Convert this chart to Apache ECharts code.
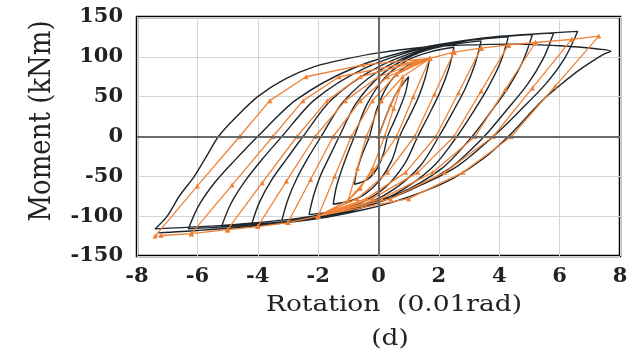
<!DOCTYPE html>
<html><head><meta charset="utf-8">
<script src="https://cdn.jsdelivr.net/npm/echarts@6/dist/echarts.min.js"></script>
<style>html,body{margin:0;padding:0;background:#fff}#c{width:641px;height:358px}</style>
</head><body><div id="c"></div>
<script>
const xTicks = [-8,-6,-4,-2,0,2,4,6,8];
const yTicks = [-150,-100,-50,0,50,100,150];

// Experimental hysteresis (black), traced in order
const blackPath = [
[0,0],[0.3,30],[0.6,55],[1.0,75],
[0.9,56],[0.73,38],[0.52,19],[0.3,0],[0.17,-21],[-0.03,-39],[-0.27,-51],[-0.53,-57],[-0.8,-60],
[-0.73,-45],[-0.61,-30],[-0.46,-15],[-0.3,0],[-0.06,34],[0.3,64],[0.74,83],[1.2,93],[1.7,98],
[1.55,74],[1.32,49],[1.02,25],[0.7,0],[0.44,-30],[0.04,-55],[-0.44,-72],[-0.95,-81],[-1.5,-85],
[-1.4,-64],[-1.23,-43],[-1.02,-21],[-0.8,0],[-0.4,39],[0.19,73],[0.92,95],[1.68,106],[2.5,112],
[2.32,84],[2.04,56],[1.68,28],[1.3,0],[0.87,-34],[0.22,-64],[-0.57,-83],[-1.4,-93],[-2.3,-98],
[-2.15,-74],[-1.92,-49],[-1.62,-25],[-1.3,0],[-0.74,42],[0.11,78],[1.14,102],[2.23,114],[3.4,120],
[3.19,90],[2.87,60],[2.45,30],[2.0,0],[1.38,-37],[0.44,-68],[-0.7,-89],[-1.9,-100],[-3.2,-105],
[-3.0,-79],[-2.71,-53],[-2.32,-26],[-1.9,0],[-1.16,44],[-0.04,81],[1.32,106],[2.75,119],[4.3,125],
[4.05,94],[3.65,63],[3.14,31],[2.6,0],[1.78,-39],[0.56,-72],[-0.94,-94],[-2.5,-105],[-4.2,-110],
[-3.95,-83],[-3.55,-55],[-3.04,-28],[-2.5,0],[-1.59,45],[-0.22,83],[1.45,109],[3.2,122],[5.1,128],
[4.8,96],[4.34,64],[3.74,32],[3.1,0],[2.1,-40],[0.61,-73],[-1.22,-96],[-3.13,-107],[-5.2,-113],
[-4.9,-85],[-4.44,-57],[-3.84,-28],[-3.2,0],[-2.12,46],[-0.5,85],[1.48,111],[3.55,124],[5.8,130],
[5.46,98],[4.93,65],[4.24,33],[3.5,0],[2.32,-41],[0.56,-75],[-1.6,-99],[-3.85,-110],[-6.3,-116],
[-5.96,-87],[-5.43,-58],[-4.74,-29],[-4.0,0],[-2.73,46],[-0.82,86],[1.51,112],[3.95,125],[6.6,132],
[6.18,99],[5.54,66],[4.7,33],[3.8,0],[2.46,-41],[0.44,-75],[-2.02,-99],[-4.6,-110],[-7.4,-116],
[-7.0,-100],[-6.6,-75],[-6.1,-50],[-5.7,-25],[-5.3,0],[-4.7,25],[-4.0,50],[-3.1,72],[-2.1,88],[-1,98],[0,105],[1.5,112],[3,115],[4.5,116],[6,114],[7.0,111],[7.7,107],
[7.5,104],[7.1,95],[6.6,82],[6.0,64],[5.5,48],[4.9,24],[4.3,0],[3.5,-27],[2.5,-52],[1.5,-69],[0.5,-82],[-0.5,-92],[-2,-103],[-4,-112],[-6,-118],[-7.3,-121]
];

// Simulated hysteresis (orange), traced in order
const orangePath = [
[0,0],[0.4,40],[0.8,70],
[0.5,35],[0.2,0],[-0.2,-40],[-0.6,-65],[-1.0,-80],
[-0.7,-40],[-0.4,0],[0.1,45],[0.8,75],[1.7,98],
[1.15,50],[0.6,0],[-0.2,-45],[-1.0,-80],[-2.0,-100],
[-1.45,-50],[-0.9,0],[-0.2,45],[0.6,78],[1.7,98],[2.5,106],
[1.85,53],[1.2,0],[0.3,-45],[-0.7,-78],[-2.0,-100],[-3.0,-108],
[-2.25,-54],[-1.5,0],[-0.6,45],[0.3,75],[1.7,98],[2.5,106],[3.4,111],
[2.65,55],[1.9,0],[0.9,-45],[-0.4,-78],[-2.0,-100],[-3.0,-108],[-4.0,-113],
[-3.05,-56],[-2.1,0],[-1.1,45],[0.0,75],[1.7,98],[2.5,106],[3.4,111],[4.3,115],
[3.4,57],[2.5,0],[1.3,-45],[-0.2,-78],[-2.0,-100],[-3.0,-108],[-4.0,-113],[-5.0,-117],
[-3.85,-58],[-2.7,0],[-1.7,45],[-0.6,75],[1.7,98],[2.5,106],[3.4,111],[4.3,115],[5.2,118],
[4.2,59],[3.2,0],[1.8,-45],[0.1,-78],[-2.0,-100],[-3.0,-108],[-4.0,-113],[-5.0,-117],[-6.2,-122],
[-4.85,-61],[-3.5,0],[-2.5,45],[-1.3,75],[1.7,98],[2.5,106],[3.4,111],[4.3,115],[5.2,118],[6.4,122],
[5.1,61],[3.8,0],[2.2,-45],[0.4,-78],[-2.0,-100],[-3.0,-108],[-4.0,-113],[-5.0,-117],[-6.2,-122],[-7.4,-125],
[-6.0,-62],[-4.6,0],[-3.6,45],[-2.4,75],[-0.5,90],[1.7,98],[2.5,106],[3.4,111],[4.3,115],[5.2,118],[6.4,122],[7.3,126],
[5.85,63],[4.4,0],[2.8,-45],[1.0,-78],[-2.0,-100],[-3.0,-108],[-4.0,-113],[-5.0,-117],[-6.2,-122],[-7.2,-124]
];

const chart = echarts.init(document.getElementById('c'), null, {renderer:'canvas'});
const labelFont = {fontFamily:'"DejaVu Serif", serif', fontWeight:'bold', fontSize:21, color:'#222'};
chart.setOption({
  animation:false,
  backgroundColor:'#fff',
  grid:{left:137, right:21, top:17, bottom:102, show:true, borderColor:'#000', borderWidth:2.5, backgroundColor:'transparent'},
  xAxis:{type:'value', min:xTicks[0], max:xTicks[xTicks.length-1], interval:xTicks[1]-xTicks[0],
    axisLine:{show:false}, axisTick:{show:false},
    splitLine:{show:true, lineStyle:{color:'#d4d4d4', width:1}},
    axisLabel:Object.assign({margin:10}, labelFont)},
  yAxis:{type:'value', min:yTicks[0], max:yTicks[yTicks.length-1], interval:yTicks[1]-yTicks[0],
    axisLine:{show:false}, axisTick:{show:false},
    splitLine:{show:true, lineStyle:{color:'#d4d4d4', width:1}},
    axisLabel:Object.assign({margin:14}, labelFont)},
  series:[
    {type:'line', data:[], z:1, silent:true,
     markLine:{silent:true, symbol:'none', label:{show:false}, animation:false,
       lineStyle:{color:'#6a6a6a', width:2, type:'solid'},
       data:[{xAxis:0},{yAxis:0}]}},
    {type:'line', data:blackPath, smooth:0.3, showSymbol:false, z:3,
     lineStyle:{color:'#1e262c', width:1.4}},
    {type:'line', data:orangePath, smooth:false, symbol:'triangle', symbolSize:5, showSymbol:true, z:4,
     itemStyle:{color:'#ee7f33'}, lineStyle:{color:'#ef8236', width:1.3}}
  ],
  graphic:[
    {type:'text', x:42, y:121, rotation:Math.PI/2, scaleY:1.15,
     style:{text:'Moment (kNm)', font:'26px "DejaVu Serif", serif', fill:'#222',
       textAlign:'center', textVerticalAlign:'middle', align:'center', verticalAlign:'middle'}},
    {type:'text', x:394, y:305, scaleX:1.15,
     style:{text:'Rotation  (0.01rad)', font:'23px "DejaVu Serif", serif', fill:'#222',
       textAlign:'center', textVerticalAlign:'middle', align:'center', verticalAlign:'middle'}},
    {type:'text', x:390, y:339, scaleX:1.15,
     style:{text:'(d)', font:'23px "DejaVu Serif", serif', fill:'#222',
       textAlign:'center', textVerticalAlign:'middle', align:'center', verticalAlign:'middle'}}
  ]
});
</script></body></html>
